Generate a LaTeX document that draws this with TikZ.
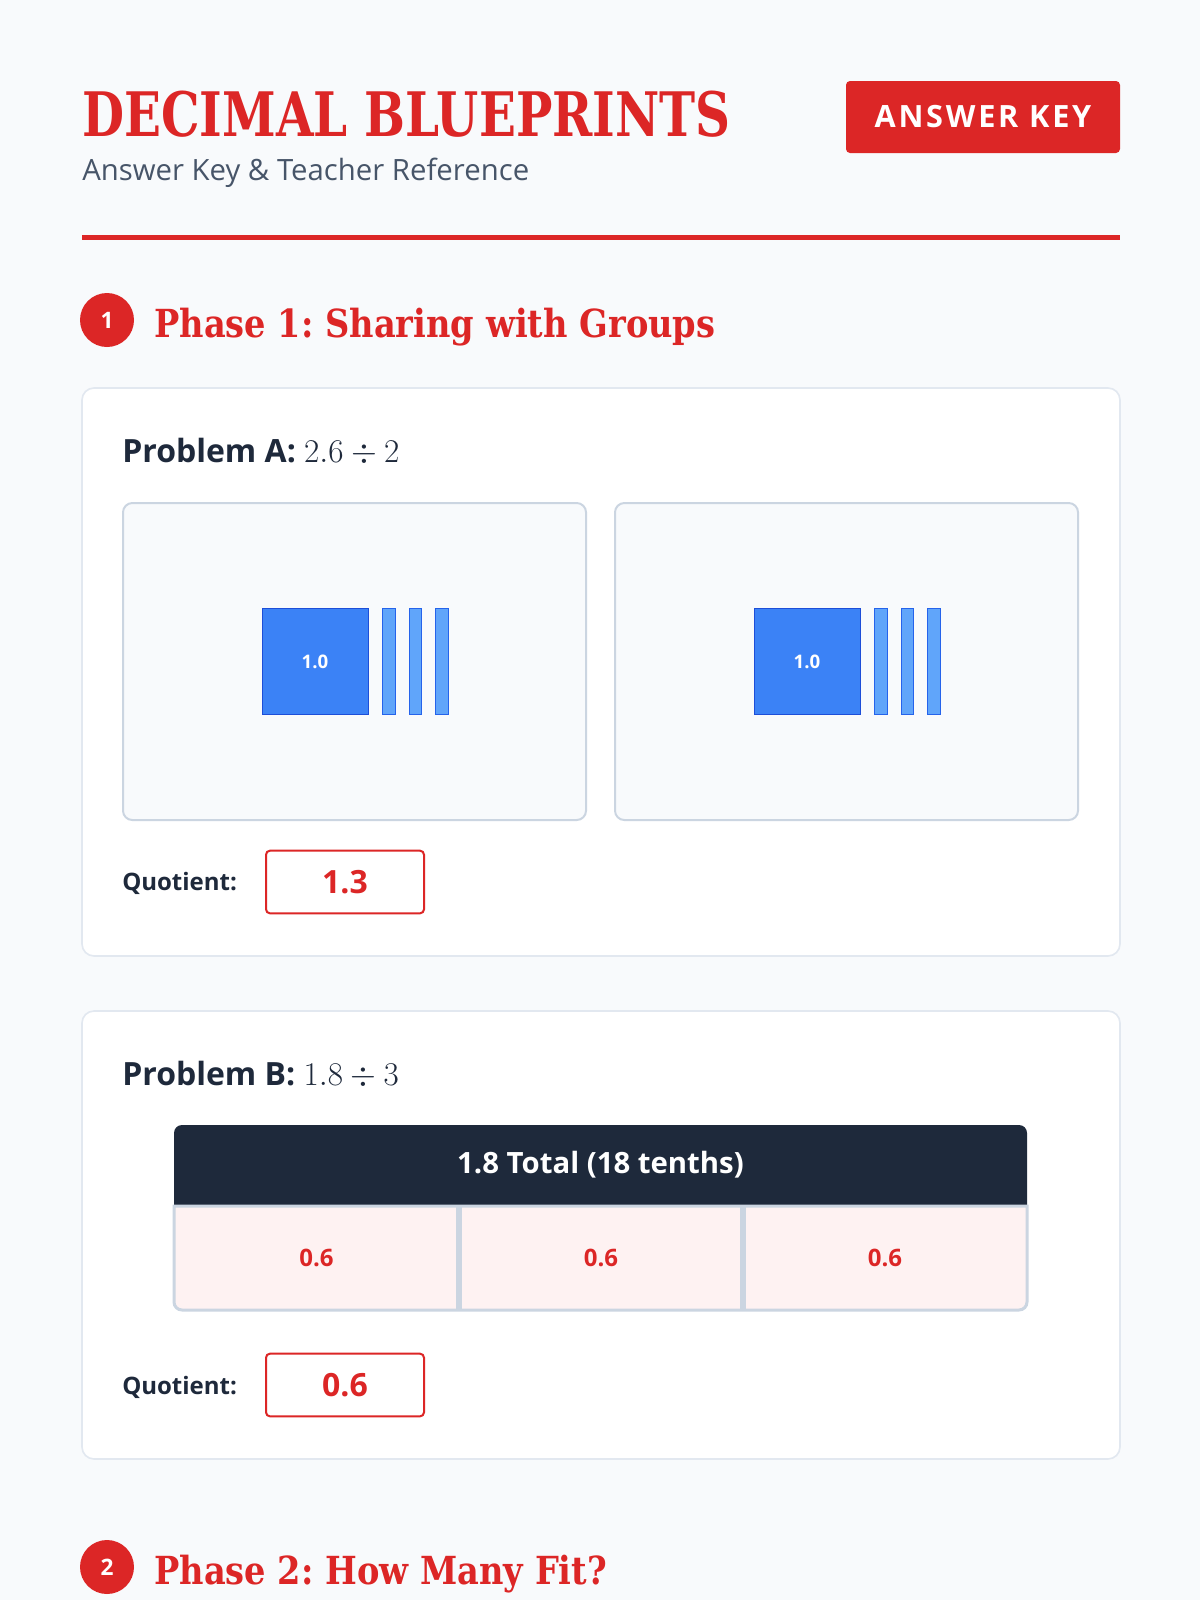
\documentclass[tikz,border=0pt]{standalone}
\usepackage[no-math]{fontspec}
\setmainfont{Open Sans}
\newfontfamily\slabfont[FakeStretch=0.79]{DejaVu Serif}
\newfontfamily\phasefont[FakeStretch=0.87]{DejaVu Serif}
\newfontfamily\badgefont[LetterSpace=9]{Open Sans}
\usetikzlibrary{positioning}
\frenchspacing

\definecolor{keyred}{HTML}{DC2626}
\definecolor{ink}{HTML}{1E293B}
\definecolor{slatetext}{HTML}{475569}
\definecolor{pagebg}{HTML}{F8FAFC}
\definecolor{panelline}{HTML}{CBD5E1}
\definecolor{cardline}{HTML}{E2E8F0}
\definecolor{unitblue}{HTML}{3B82F6}
\definecolor{unitedge}{HTML}{1D4ED8}
\definecolor{tenthblue}{HTML}{60A5FA}
\definecolor{tenthedge}{HTML}{2563EB}
\definecolor{cellpink}{HTML}{FEF2F2}

\tikzset{
  card/.style={fill=white, draw=cardline, line width=1.2pt, rounded corners=9pt},
  panel/.style={fill=pagebg, draw=panelline, line width=1.5pt, rounded corners=7pt},
  heading/.style={anchor=base west, inner sep=0pt, text=keyred, font=\phasefont\bfseries\fontsize{29}{34}\selectfont},
  phasenum/.style={circle, fill=keyred, text=white, minimum size=40.5pt, inner sep=0pt, font=\bfseries\fontsize{17}{17}\selectfont},
  probtitle/.style={anchor=base west, inner sep=0pt, text=ink, font=\bfseries\fontsize{24}{26}\selectfont},
  qlabel/.style={anchor=base west, inner sep=0pt, text=ink, font=\bfseries\fontsize{18}{22}\selectfont},
  answerbox/.style={draw=keyred, fill=white, line width=1.5pt, rounded corners=3pt, minimum width=118.5pt, minimum height=47pt, text=keyred, font=\bfseries\fontsize{24}{28}\selectfont},
  unitsq/.style={draw=unitedge, fill=unitblue, line width=0.75pt, minimum size=79.5pt, inner sep=0pt, text=white, font=\bfseries\fontsize{14}{14}\selectfont},
  tenth/.style={draw=tenthedge, fill=tenthblue, line width=0.75pt, minimum width=9.4pt, minimum height=79pt, inner sep=0pt},
  cellval/.style={text=keyred, font=\bfseries\fontsize{18}{20}\selectfont}
}

\begin{document}
\begin{tikzpicture}[x=0.75pt,y=-0.75pt]
  \useasboundingbox[fill=pagebg] (0,0) rectangle (1200,1600);

  % header
  \node[anchor=base west,inner sep=0pt,text=keyred,font=\slabfont\bfseries\fontsize{46}{50}\selectfont] (title) at (82,136) {DECIMAL BLUEPRINTS};
  \node[anchor=base west,inner sep=0pt,text=slatetext,font=\fontsize{22}{26}\selectfont] (subtitle) at (82,180) {Answer Key \& Teacher Reference};
  \node[fill=keyred,text=white,rounded corners=3pt,minimum width=205.5pt,minimum height=54pt,font=\badgefont\bfseries\fontsize{23}{24}\selectfont] (badge) at (983,117) {ANSWER KEY};
  \draw[keyred,line width=3.75pt] (82,237) -- (1120,237);

  % phase 1
  \node[phasenum] (num1) at (107,320) {1};
  \node[heading] (phase1) at (154,337) {Phase 1: Sharing with Groups};

  % problem A
  \draw[card] (82,388) rectangle (1120,956);
  \node[probtitle] (probA) at (122,462) {Problem A: \fontsize{30}{30}\selectfont$2.6 \div 2$};
  \foreach \dx/\side in {0/L,492/R} {
    \draw[panel] (123+\dx,503) rectangle (586+\dx,820);
    \node[unitsq] (unit\side) at (315+\dx,661.5) {1.0};
    \foreach \k in {0,1,2}
      \node[tenth] (tenth\side\k) at (389+\dx+26.5*\k,661.5) {};
  }
  \node[qlabel] (quotA) at (122,890) {Quotient:};
  \node[answerbox] (ansA) at (345,882) {1.3};

  % problem B
  \draw[card] (82,1011) rectangle (1120,1459);
  \node[probtitle] (probB) at (122,1085) {Problem B: \fontsize{30}{30}\selectfont$1.8 \div 3$};
  \fill[ink] (174,1206) {[rounded corners=6pt] -- (174,1125) -- (1027,1125)} -- (1027,1206) -- cycle;
  \node[text=white,font=\bfseries\fontsize{22}{26}\selectfont] (total) at (600.5,1165) {1.8 Total (18 tenths)};
  \filldraw[fill=cellpink,draw=panelline,line width=2.25pt] (1027,1206) -- (174,1206) {[rounded corners=6pt] -- (174,1310) -- (1027,1310)} -- cycle;
  \foreach \xd in {459,743}
    \draw[panelline,line width=4.5pt] (\xd,1206) -- (\xd,1310);
  \foreach \cx [count=\i] in {316.5,601,885}
    \node[cellval] (share\i) at (\cx,1258) {0.6};
  \node[qlabel] (quotB) at (122,1394) {Quotient:};
  \node[answerbox] (ansB) at (345,1385) {0.6};

  % phase 2
  \node[phasenum] (num2) at (107,1567) {2};
  \node[heading] (phase2) at (154,1584) {Phase 2: How Many Fit?};
\end{tikzpicture}
\end{document}
